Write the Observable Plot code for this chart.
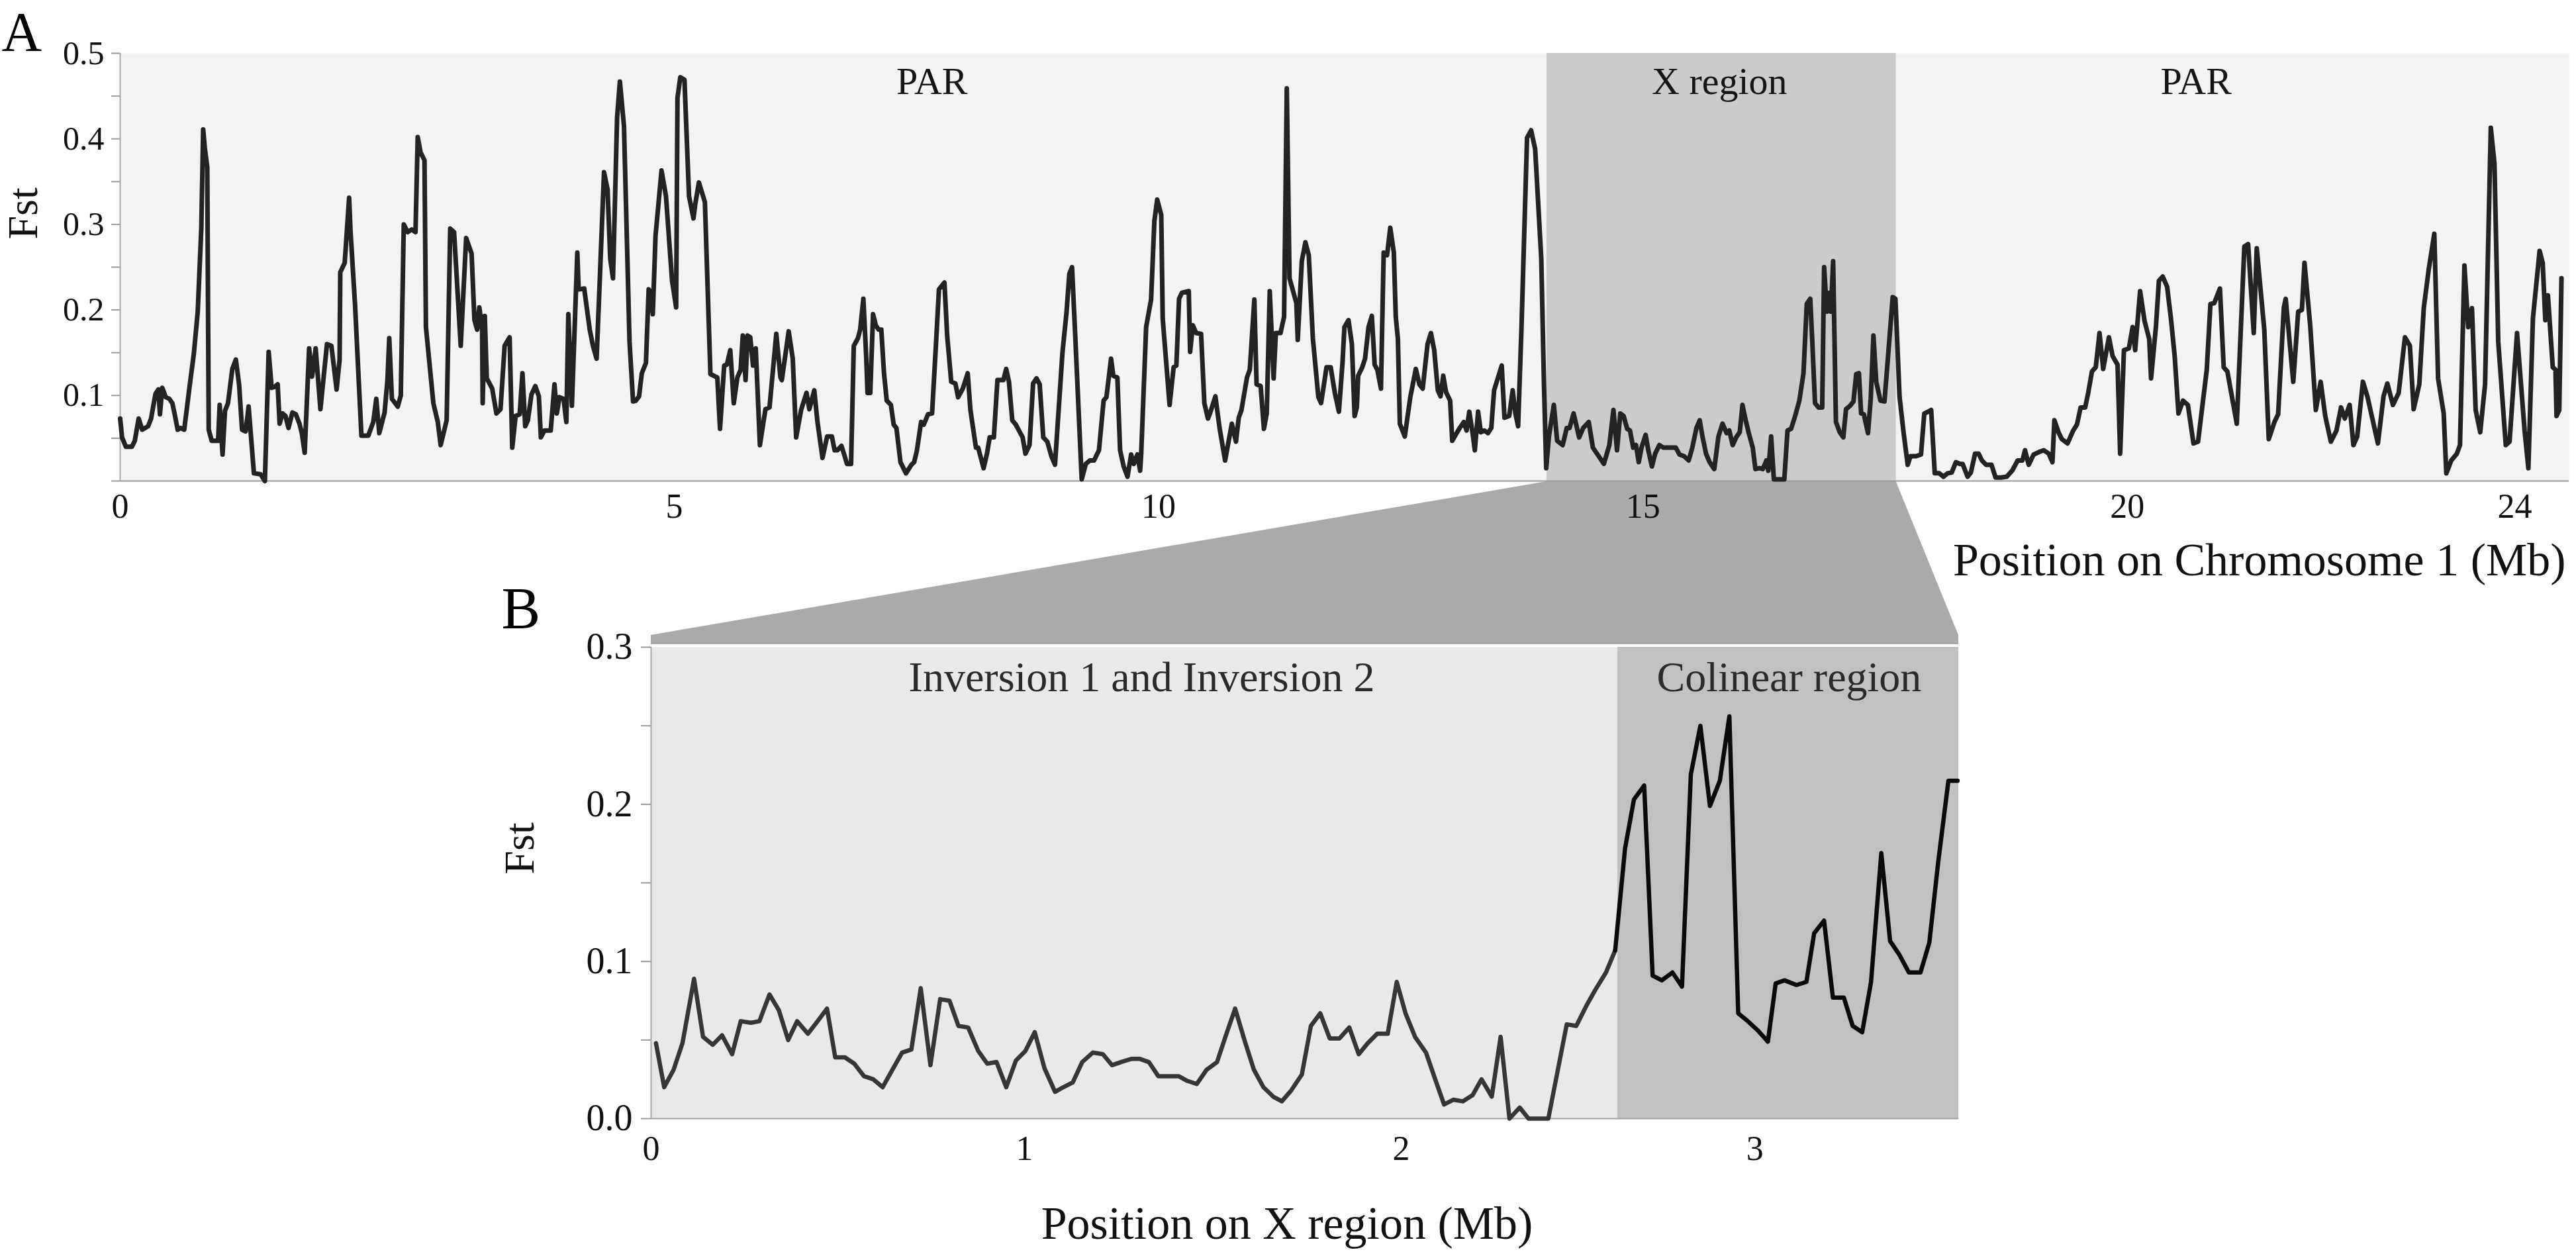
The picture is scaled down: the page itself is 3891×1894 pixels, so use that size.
<!DOCTYPE html>
<html>
<head>
<meta charset="utf-8">
<script src="https://cdn.jsdelivr.net/npm/d3@7"></script>
<script src="https://cdn.jsdelivr.net/npm/@observablehq/plot@0.6"></script>
<style>
html, body { margin: 0; padding: 0; background: #ffffff; }
#chart { position: relative; width: 3891px; height: 1894px; overflow: hidden; background: #ffffff; }
#chart svg { position: absolute; left: 0; top: 0; }
</style>
</head>
<body>
<div id="chart"></div>
<script>
// ---------------- Panel A: Fst along chromosome 1 (Mb) ----------------
const posA = [
0.000,0.017,0.052,0.106,0.132,0.167,0.199,0.252,0.279,0.319,
0.345,0.359,0.380,0.412,0.444,0.471,0.492,0.519,0.545,0.578,
0.625,0.665,0.700,0.732,0.749,0.764,0.786,0.799,0.826,0.884,
0.898,0.924,0.946,0.973,1.012,1.044,1.073,1.100,1.132,1.159,
1.207,1.266,1.306,1.340,1.367,1.394,1.421,1.439,1.465,1.492,
1.519,1.554,1.585,1.618,1.639,1.665,1.705,1.732,1.764,1.807,
1.866,1.906,1.953,1.980,1.986,2.026,2.066,2.079,2.119,2.177,
2.239,2.284,2.311,2.338,2.386,2.412,2.428,2.452,2.505,2.532,
2.559,2.594,2.631,2.665,2.685,2.711,2.746,2.759,2.826,2.866,
2.892,2.946,2.978,3.013,3.073,3.122,3.171,3.197,3.221,3.241,
3.266,3.271,3.290,3.308,3.357,3.395,3.432,3.469,3.514,3.538,
3.568,3.605,3.630,3.655,3.679,3.711,3.746,3.778,3.796,3.828,
3.885,3.919,3.940,3.964,4.001,4.026,4.044,4.076,4.125,4.137,
4.187,4.237,4.266,4.299,4.323,4.366,4.398,4.422,4.447,4.484,
4.509,4.546,4.596,4.628,4.653,4.682,4.707,4.744,4.769,4.787,
4.806,4.831,4.885,4.925,4.980,5.019,5.033,5.062,5.105,5.152,
5.198,5.217,5.254,5.316,5.373,5.444,5.472,5.515,5.543,5.578,
5.614,5.651,5.685,5.707,5.736,5.756,5.784,5.813,5.841,5.884,
5.941,5.983,6.053,6.096,6.110,6.181,6.223,6.258,6.309,6.365,
6.394,6.445,6.478,6.530,6.578,6.627,6.655,6.684,6.726,6.754,
6.783,6.825,6.853,6.896,6.919,6.952,6.981,6.995,7.023,7.052,
7.080,7.109,7.137,7.165,7.193,7.236,7.265,7.293,7.335,7.392,
7.448,7.476,7.505,7.548,7.576,7.619,7.661,7.703,7.732,7.789,
7.817,7.859,7.902,7.930,7.978,8.029,8.057,8.114,8.137,8.193,
8.228,8.256,8.299,8.336,8.398,8.426,8.455,8.489,8.525,8.568,
8.596,8.625,8.667,8.704,8.739,8.772,8.809,8.851,8.893,8.930,
9.007,9.049,9.078,9.106,9.135,9.206,9.248,9.291,9.333,9.384,
9.432,9.461,9.509,9.532,9.574,9.602,9.639,9.679,9.716,9.744,
9.781,9.809,9.820,9.871,9.922,9.956,9.985,10.027,10.042,10.113,
10.155,10.183,10.211,10.240,10.311,10.325,10.353,10.387,10.438,10.472,
10.509,10.530,10.586,10.629,10.686,10.756,10.798,10.827,10.855,10.912,
10.941,10.988,11.011,11.053,11.087,11.116,11.147,11.187,11.210,11.258,
11.295,11.323,11.351,11.422,11.436,11.478,11.515,11.550,11.592,11.649,
11.677,11.700,11.733,11.776,11.819,11.861,11.898,11.918,11.960,11.995,
12.023,12.046,12.060,12.102,12.131,12.167,12.201,12.230,12.258,12.295,
12.323,12.358,12.391,12.428,12.448,12.470,12.490,12.541,12.598,12.655,
12.692,12.726,12.776,12.811,12.845,12.882,12.910,12.938,12.967,13.009,
13.031,13.066,13.108,13.150,13.179,13.207,13.241,13.264,13.298,13.326,
13.363,13.400,13.434,13.463,13.496,13.542,13.570,13.619,13.655,13.683,
13.711,13.746,13.803,13.845,13.887,13.950,13.978,14.001,14.029,14.080,
14.114,14.171,14.213,14.242,14.284,14.341,14.383,14.440,14.483,14.525,
14.596,14.653,14.695,14.732,14.766,14.800,14.837,14.866,14.899,14.928,
14.956,14.985,15.027,15.055,15.092,15.126,15.169,15.211,15.254,15.297,
15.339,15.376,15.424,15.472,15.509,15.552,15.586,15.614,15.651,15.688,
15.736,15.779,15.821,15.863,15.891,15.926,15.962,15.999,16.027,16.056,
16.090,16.133,16.161,16.203,16.237,16.274,16.294,16.323,16.351,16.387,
16.459,16.492,16.529,16.571,16.614,16.657,16.691,16.727,16.747,16.776,
16.813,16.850,16.870,16.898,16.926,16.940,16.963,16.992,17.031,17.068,
17.096,17.138,17.173,17.201,17.229,17.252,17.280,17.323,17.351,17.379,
17.408,17.451,17.493,17.535,17.578,17.606,17.649,17.691,17.733,17.762,
17.819,17.870,17.904,17.946,17.975,18.012,18.059,18.102,18.144,18.187,
18.230,18.272,18.300,18.351,18.385,18.428,18.465,18.499,18.541,18.598,
18.640,18.697,18.754,18.811,18.868,18.917,18.944,18.982,19.033,19.091,
19.138,19.188,19.227,19.247,19.293,19.324,19.383,19.441,19.480,19.518,
19.565,19.596,19.635,19.674,19.713,19.751,19.810,19.848,19.899,19.926,
19.965,20.016,20.055,20.081,20.132,20.178,20.226,20.245,20.295,20.326,
20.365,20.411,20.450,20.489,20.528,20.575,20.625,20.683,20.730,20.820,
20.858,20.897,20.956,20.995,21.033,21.130,21.208,21.247,21.305,21.336,
21.414,21.460,21.519,21.557,21.616,21.635,21.713,21.764,21.802,21.829,
21.887,21.946,21.996,22.043,22.101,22.159,22.206,22.245,22.295,22.334,
22.373,22.432,22.478,22.587,22.645,22.684,22.742,22.801,22.866,22.917,
22.956,23.014,23.060,23.111,23.169,23.208,23.266,23.293,23.344,23.402,
23.434,23.480,23.519,23.558,23.596,23.643,23.693,23.752,23.790,23.829,
23.907,23.946,24.023,24.101,24.140,24.187,24.256,24.288,24.315,24.342,
24.392,24.420,24.431,24.459,24.482
];
const fstA = [
0.073,0.051,0.040,0.040,0.047,0.073,0.060,0.064,0.073,0.102,
0.107,0.078,0.109,0.098,0.096,0.091,0.078,0.060,0.062,0.060,
0.109,0.149,0.198,0.295,0.411,0.389,0.367,0.060,0.047,0.047,
0.089,0.031,0.082,0.091,0.131,0.142,0.113,0.060,0.058,0.087,
0.009,0.008,0.000,0.151,0.109,0.110,0.113,0.067,0.079,0.076,
0.062,0.080,0.078,0.067,0.056,0.033,0.155,0.122,0.155,0.084,
0.160,0.158,0.107,0.142,0.244,0.255,0.331,0.291,0.207,0.053,
0.053,0.069,0.096,0.056,0.080,0.118,0.167,0.096,0.087,0.100,
0.300,0.291,0.294,0.291,0.402,0.384,0.375,0.180,0.091,0.069,
0.042,0.071,0.295,0.291,0.158,0.284,0.266,0.188,0.177,0.203,
0.177,0.091,0.193,0.120,0.108,0.079,0.084,0.158,0.168,0.039,
0.076,0.078,0.126,0.064,0.071,0.101,0.111,0.099,0.051,0.059,
0.059,0.113,0.079,0.098,0.096,0.069,0.195,0.088,0.267,0.224,
0.225,0.177,0.158,0.143,0.220,0.361,0.341,0.260,0.237,0.425,
0.467,0.415,0.163,0.093,0.094,0.099,0.126,0.138,0.224,0.220,
0.195,0.287,0.363,0.333,0.234,0.203,0.448,0.472,0.469,0.333,
0.307,0.324,0.349,0.326,0.125,0.121,0.061,0.135,0.136,0.153,
0.091,0.121,0.130,0.170,0.118,0.170,0.168,0.135,0.155,0.042,
0.084,0.086,0.172,0.121,0.118,0.175,0.143,0.051,0.083,0.103,
0.084,0.106,0.069,0.027,0.052,0.052,0.036,0.036,0.041,0.031,
0.020,0.020,0.158,0.167,0.177,0.213,0.146,0.103,0.103,0.195,
0.182,0.177,0.177,0.126,0.094,0.089,0.066,0.062,0.022,0.009,
0.019,0.022,0.036,0.069,0.066,0.078,0.079,0.163,0.224,0.232,
0.170,0.116,0.114,0.098,0.108,0.126,0.083,0.039,0.039,0.015,
0.032,0.051,0.051,0.118,0.118,0.131,0.116,0.071,0.066,0.057,
0.051,0.032,0.042,0.114,0.120,0.113,0.051,0.046,0.029,0.019,
0.150,0.197,0.242,0.250,0.180,0.002,0.020,0.024,0.024,0.036,
0.094,0.098,0.143,0.123,0.121,0.036,0.017,0.005,0.031,0.020,
0.031,0.012,0.032,0.180,0.212,0.304,0.329,0.311,0.190,0.089,
0.133,0.135,0.213,0.220,0.222,0.151,0.182,0.173,0.172,0.091,
0.073,0.079,0.099,0.062,0.024,0.067,0.046,0.074,0.083,0.121,
0.130,0.212,0.113,0.111,0.061,0.079,0.222,0.120,0.173,0.173,
0.192,0.459,0.237,0.208,0.165,0.257,0.279,0.264,0.167,0.098,
0.091,0.108,0.133,0.133,0.103,0.081,0.138,0.180,0.188,0.160,
0.076,0.086,0.123,0.133,0.143,0.180,0.193,0.136,0.130,0.108,
0.267,0.264,0.296,0.267,0.192,0.166,0.067,0.052,0.098,0.131,
0.113,0.108,0.160,0.173,0.153,0.106,0.099,0.123,0.104,0.094,
0.047,0.054,0.062,0.069,0.059,0.081,0.056,0.036,0.081,0.057,
0.059,0.056,0.062,0.106,0.118,0.135,0.074,0.076,0.106,0.079,
0.064,0.180,0.401,0.410,0.388,0.260,0.113,0.015,0.052,0.089,
0.047,0.042,0.062,0.062,0.079,0.051,0.062,0.069,0.039,0.032,
0.020,0.042,0.083,0.036,0.079,0.076,0.061,0.059,0.039,0.042,
0.022,0.039,0.054,0.036,0.017,0.032,0.042,0.039,0.039,0.039,
0.039,0.031,0.029,0.024,0.039,0.062,0.071,0.052,0.032,0.022,
0.014,0.052,0.067,0.056,0.059,0.042,0.051,0.057,0.089,0.073,
0.057,0.039,0.014,0.015,0.014,0.024,0.012,0.052,0.002,0.002,
0.002,0.059,0.061,0.076,0.094,0.126,0.207,0.213,0.165,0.091,
0.086,0.086,0.250,0.198,0.220,0.198,0.257,0.069,0.057,0.051,
0.084,0.088,0.093,0.125,0.126,0.079,0.078,0.056,0.096,0.170,
0.116,0.094,0.093,0.153,0.215,0.213,0.098,0.056,0.019,0.029,
0.029,0.031,0.079,0.081,0.083,0.009,0.009,0.005,0.009,0.010,
0.022,0.020,0.020,0.005,0.010,0.032,0.032,0.024,0.019,0.019,
0.004,0.004,0.005,0.012,0.024,0.024,0.036,0.019,0.031,0.034,
0.036,0.032,0.022,0.071,0.056,0.049,0.044,0.059,0.066,0.086,
0.086,0.103,0.128,0.133,0.173,0.131,0.168,0.146,0.136,0.032,
0.153,0.155,0.180,0.153,0.222,0.187,0.166,0.120,0.180,0.234,
0.239,0.227,0.190,0.146,0.079,0.094,0.089,0.044,0.046,0.130,
0.207,0.208,0.225,0.133,0.128,0.067,0.274,0.277,0.173,0.272,
0.177,0.049,0.069,0.078,0.203,0.213,0.116,0.198,0.200,0.255,
0.183,0.083,0.116,0.076,0.046,0.059,0.086,0.073,0.089,0.042,
0.052,0.116,0.099,0.044,0.099,0.114,0.089,0.103,0.168,0.158,
0.084,0.113,0.202,0.247,0.289,0.120,0.079,0.009,0.024,0.032,
0.042,0.252,0.180,0.202,0.083,0.057,0.113,0.413,0.371,0.163,
0.042,0.046,0.173,0.059,0.015,0.190,0.269,0.255,0.188,0.217,
0.133,0.130,0.076,0.083,0.237
];
const regionNamesA = ["PAR", "X region", "PAR"];
const regionStartA = [0, 14.007, 17.614];
const regionEndA = [14.007, 17.614, 24.56];
const regionLabelXA = [7.66, 15.79, 20.71];
const ticksXA = [0, 5, 10, 15, 20, 24];
const ticksYA = [0.1, 0.2, 0.3, 0.4, 0.5];

// ---------------- Panel B: Fst along the X region (Mb) ----------------
const posB1 = [
0.013,0.035,0.060,0.084,0.115,0.139,0.165,0.190,0.217,0.240,
0.267,0.290,0.317,0.342,0.367,0.391,0.420,0.446,0.471,0.493,
0.519,0.544,0.570,0.595,0.620,0.646,0.672,0.697,0.722,0.748,
0.774,0.799,0.823,0.849,0.876,0.900,0.925,0.951,0.977,1.002,
1.027,1.053,1.081,1.103,1.128,1.153,1.181,1.208,1.232,1.256,
1.283,1.306,1.330,1.355,1.381,1.409,1.432,1.457,1.483,1.511,
1.536,1.559,1.585,1.609,1.634,1.660,1.683,1.708,1.736,1.760,
1.785,1.810,1.836,1.862,1.887,1.911,1.936,1.964,1.988,2.012,
2.039,2.070,2.096,2.121,2.147,2.174,2.202,2.227,2.256,2.281,
2.306,2.335,2.360,2.390,2.416,2.468,2.495,2.524,2.549,2.579,
2.605
];
const fstB1 = [
0.048,0.020,0.031,0.048,0.089,0.052,0.047,0.053,0.041,0.062,
0.061,0.062,0.079,0.069,0.050,0.062,0.054,0.062,0.070,0.039,
0.039,0.035,0.027,0.025,0.020,0.031,0.042,0.044,0.083,0.034,
0.076,0.075,0.059,0.058,0.043,0.035,0.036,0.020,0.037,0.043,
0.055,0.032,0.017,0.020,0.023,0.036,0.042,0.041,0.034,0.036,
0.038,0.038,0.036,0.027,0.027,0.027,0.024,0.022,0.031,0.036,
0.054,0.070,0.049,0.031,0.020,0.014,0.011,0.018,0.028,0.059,
0.067,0.051,0.051,0.058,0.041,0.048,0.054,0.054,0.087,0.067,
0.052,0.042,0.025,0.009,0.012,0.011,0.015,0.025,0.014,0.052,
0.000,0.007,0.000,0.000,0.000,0.060,0.059,0.072,0.082,0.093,
0.107
];
const posB2 = [
2.605,2.633,2.658,2.687,2.711,2.737,2.767,2.794,2.819,2.846,
2.873,2.901,2.928,2.953,2.980,3.009,3.037,3.059,3.084,3.118,
3.146,3.168,3.196,3.221,3.252,3.277,3.304,3.329,3.358,3.383,
3.410,3.436,3.469,3.494,3.519,3.548,3.574
];
const fstB2 = [
0.107,0.172,0.203,0.212,0.091,0.088,0.093,0.084,0.219,0.250,
0.199,0.215,0.256,0.067,0.062,0.056,0.049,0.086,0.088,0.085,
0.087,0.118,0.126,0.077,0.077,0.059,0.055,0.087,0.169,0.113,
0.104,0.093,0.093,0.112,0.163,0.215,0.215
];
const regionNamesB = ["Inversion 1 and Inversion 2", "Colinear region"];
const regionStartB = [0, 2.612];
const regionEndB = [2.612, 3.577];
const regionLabelXB = [1.311, 3.097];
const ticksXB = [0, 1, 2, 3];
const ticksYB = [0, 0.1, 0.2, 0.3];

// ---------------- Rendering ----------------
const W = 3891, H = 1894;
const FONT = "'Liberation Serif', 'Times New Roman', serif";
const baseStyle = {background: "transparent", fontFamily: FONT, color: "#111", overflow: "visible"};

// The original axes are not uniformly spaced (label intervals differ);
// these knot transforms reproduce that axis spacing.
const warpA = d3.scaleLinear().domain([0, 5, 24.56]).range([-0.7204, 5, 24.56]);
const warpB = d3.scaleLinear().domain([0, 1, 2, 3, 3.577]).range([0, 1.0216, 2.0522, 3.0194, 3.577]);

const dataA = posA.map((x, i) => ({x, fst: fstA[i]}));
const regionsA = regionNamesA.map((name, i) => ({name, x1: regionStartA[i], x2: regionEndA[i], lx: regionLabelXA[i]}));
const minorA = [0, 0.05, 0.1, 0.15, 0.2, 0.25, 0.3, 0.35, 0.4, 0.45, 0.5];

const chartA = Plot.plot({
  width: W, height: H,
  marginTop: 80, marginBottom: H - 726, marginLeft: 181, marginRight: W - 3880,
  style: baseStyle,
  x: {transform: warpA, domain: [warpA(0), warpA(24.56)], label: null},
  y: {domain: [0, 0.5], label: null},
  marks: [
    Plot.frame({fill: "#f3f3f3", stroke: "none"}),
    Plot.rect(regionsA.filter(d => d.name === "X region"), {x1: "x1", x2: "x2", fill: "#cbcbcb"}),
    Plot.ruleY([0], {stroke: "#9a9a9a", strokeWidth: 2}),
    Plot.ruleX([0], {stroke: "#a8a8a8", strokeWidth: 2}),
    Plot.axisY({ticks: minorA, tickSize: 13, tickFormat: () => "", color: "#9a9a9a", strokeWidth: 2, label: null}),
    Plot.axisY({ticks: ticksYA, tickSize: 0, tickPadding: 24, fontSize: 50, fontFamily: FONT, color: "#111", label: null, tickFormat: d3.format(".1f")}),
    Plot.axisX({ticks: ticksXA.map(warpA), tickSize: 0, tickPadding: 19, fontSize: 52, fontFamily: FONT, color: "#111", label: null, tickFormat: d => String(Math.round(warpA.invert(d)))}),
    Plot.line(dataA, {x: "x", y: "fst", stroke: "#232323", strokeWidth: 7, strokeLinejoin: "round"}),
    Plot.text(regionsA, {x: "lx", text: "name", frameAnchor: "top", dy: 61, lineAnchor: "bottom", fontSize: 58, fontFamily: FONT, fill: "#151515"}),
    Plot.text(["Fst"], {text: d => d, frameAnchor: "left", dx: -146, dy: -42, rotate: -90, fontSize: 64, fontFamily: FONT, fill: "#111"}),
    Plot.text(["A"], {text: d => d, frameAnchor: "top-left", dx: -179, dy: -4, textAnchor: "start", lineAnchor: "bottom", fontSize: 84, fontFamily: FONT, fill: "#000"}),
    Plot.text(["Position on Chromosome 1 (Mb)"], {text: d => d, frameAnchor: "bottom-right", dx: -5, dy: 142, textAnchor: "end", lineAnchor: "bottom", fontSize: 70, fontFamily: FONT, fill: "#111"})
  ]
});

const dataB1 = posB1.map((x, i) => ({x, fst: fstB1[i]}));
const dataB2 = posB2.map((x, i) => ({x, fst: fstB2[i]}));
const regionsB = regionNamesB.map((name, i) => ({name, x1: regionStartB[i], x2: regionEndB[i], lx: regionLabelXB[i]}));
const minorB = [0, 0.05, 0.1, 0.15, 0.2, 0.25, 0.3];

const chartB = Plot.plot({
  width: W, height: H,
  marginTop: 977, marginBottom: H - 1689, marginLeft: 983, marginRight: W - 2958,
  style: baseStyle,
  x: {transform: warpB, domain: [warpB(0), warpB(3.577)], label: null},
  y: {domain: [0, 0.3], label: null},
  marks: [
    Plot.frame({fill: "#e9e9e9", stroke: "none"}),
    Plot.rect(regionsB.filter(d => d.name === "Colinear region"), {x1: "x1", x2: "x2", fill: "#c1c1c1"}),
    Plot.ruleY([0], {stroke: "#a0a0a0", strokeWidth: 2}),
    Plot.ruleX([0], {stroke: "#a8a8a8", strokeWidth: 2}),
    Plot.axisY({ticks: minorB, tickSize: 15, tickFormat: () => "", color: "#9a9a9a", strokeWidth: 2, label: null}),
    Plot.axisY({ticks: ticksYB, tickSize: 0, tickPadding: 28, fontSize: 56, fontFamily: FONT, color: "#111", label: null, tickFormat: d3.format(".1f")}),
    Plot.axisX({ticks: ticksXB.map(warpB), tickSize: 0, tickPadding: 26, fontSize: 52, fontFamily: FONT, color: "#111", label: null, tickFormat: d => String(Math.round(warpB.invert(d)))}),
    Plot.line(dataB1, {x: "x", y: "fst", stroke: "#363636", strokeWidth: 6.5, strokeLinejoin: "round"}),
    Plot.line(dataB2, {x: "x", y: "fst", stroke: "#0a0a0a", strokeWidth: 6.5, strokeLinejoin: "round"}),
    Plot.text(regionsB, {x: "lx", text: "name", frameAnchor: "top", dy: 66, lineAnchor: "bottom", fontSize: 64, fontFamily: FONT, fill: "#2a2a2a"}),
    Plot.text(["Fst"], {text: d => d, frameAnchor: "left", dx: -198, dy: -13, rotate: -90, fontSize: 64, fontFamily: FONT, fill: "#111"}),
    Plot.text(["B"], {text: d => d, frameAnchor: "top-left", dx: -226, dy: -30, textAnchor: "start", lineAnchor: "bottom", fontSize: 88, fontFamily: FONT, fill: "#000"}),
    Plot.text(["Position on X region (Mb)"], {text: d => d, frameAnchor: "bottom", dx: -27, dy: 181, lineAnchor: "bottom", fontSize: 70, fontFamily: FONT, fill: "#111"})
  ]
});

// Connector (zoom wedge) from the X region of panel A to the whole of panel B,
// positioned with the two charts' own scales.
const sxA = chartA.scale("x"), syA = chartA.scale("y");
const sxB = chartB.scale("x"), syB = chartB.scale("y");
const xReg = regionsA.find(d => d.name === "X region");
const bLeft = sxB.range[0];
const bRight = sxB.range[1];
const topY = syA.apply(0) + 1;
const botY = syB.apply(0.3) - 4;
const wedge = [
  {y: topY, x1: sxA.apply(warpA(xReg.x1)), x2: sxA.apply(warpA(xReg.x2))},
  {y: botY - 14, x1: bLeft, x2: bRight},
  {y: botY, x1: bLeft, x2: bRight}
];
const chartW = Plot.plot({
  width: W, height: H, margin: 0,
  style: {background: "transparent", overflow: "visible"},
  x: {type: "identity", axis: null},
  y: {type: "identity", axis: null},
  marks: [Plot.areaX(wedge, {y: "y", x1: "x1", x2: "x2", fill: "#aaaaaa"})]
});

const container = document.getElementById("chart");
container.append(chartW, chartA, chartB);
</script>
</body>
</html>
